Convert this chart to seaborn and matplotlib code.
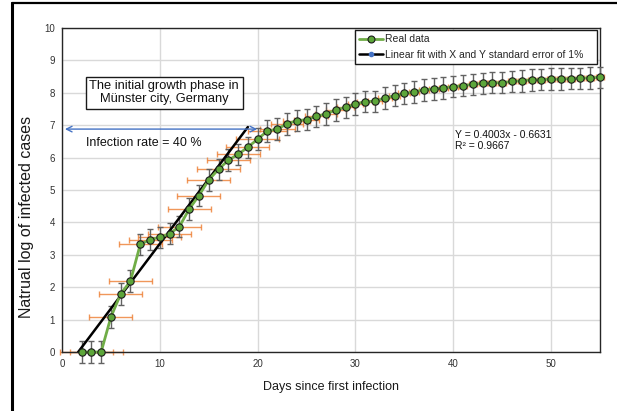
import matplotlib
matplotlib.use("Agg")
import matplotlib.pyplot as plt
from matplotlib.lines import Line2D
import numpy as np
import pandas as pd
import seaborn as sns

# Daily natural log of confirmed cases, Münster
days = list(range(2, 56))
log_cases = [0.00, 0.00, 0.00, 1.08, 1.79, 2.19, 3.32, 3.47, 3.54, 3.65,
             3.87, 4.41, 4.83, 5.31, 5.64, 5.92, 6.10, 6.32, 6.57, 6.82,
             6.88, 7.04, 7.14, 7.17, 7.27, 7.35, 7.47, 7.55, 7.65, 7.73,
             7.74, 7.84, 7.91, 7.98, 8.03, 8.09, 8.12, 8.15, 8.19, 8.22,
             8.26, 8.29, 8.31, 8.31, 8.35, 8.37, 8.40, 8.41, 8.42, 8.42,
             8.44, 8.45, 8.46, 8.48]
# horizontal (day) uncertainty per point
day_err = [2.2, 2.2, 2.2, 2.2, 2.2, 2.2, 2.2, 2.2, 2.2, 2.2,
           2.2, 2.2, 2.2, 2.2, 2.2, 2.2, 2.2, 2.2, 2.2, 2.0,
           1.8, 1.6, 1.4, 1.3, 1.2, 1.1, 1.0, 0.9, 0.8, 0.8,
           0.7, 0.7, 0.6, 0.6, 0.5, 0.5, 0.5, 0.5, 0.5, 0.4,
           0.4, 0.4, 0.4, 0.4, 0.4, 0.4, 0.4, 0.4, 0.4, 0.4,
           0.4, 0.4, 0.4, 0.4]
log_err = 0.33

# linear fit of the initial growth phase
fit_slope = 0.4003
fit_intercept = -0.6631
fit_r2 = 0.9667
fit_end_day = 19.0
rate_level = 6.88
rate_days = [0.3, 19.95]

x_ticks = [0, 10, 20, 30, 40, 50]
y_ticks = list(range(0, 11))

sns.set_style("whitegrid")
plt.rcParams["font.family"] = ["Liberation Sans", "DejaVu Sans"]

fig = plt.figure(figsize=(6.17, 4.11), dpi=100)
ax = fig.add_axes([62 / 617, 1 - 352 / 411, 538 / 617, 324 / 411])

df = pd.DataFrame({"day": days, "log_cases": log_cases})

ax.errorbar(days, log_cases, xerr=day_err, fmt="none", ecolor="#ED7D31",
            elinewidth=1.0, capsize=2.2, capthick=1.0, alpha=0.8,
            zorder=2, clip_on=False)
ax.errorbar(days, log_cases, yerr=log_err, fmt="none", ecolor="#626262",
            elinewidth=1.0, capsize=2.2, capthick=1.0, zorder=3,
            clip_on=False)

fit_x = np.array([-fit_intercept / fit_slope, fit_end_day])
fit_y = fit_slope * fit_x + fit_intercept
sns.lineplot(x=fit_x, y=fit_y, ax=ax, color="black", lw=1.8, zorder=4,
             legend=False)

sns.lineplot(data=df, x="day", y="log_cases", ax=ax, color="#70AD47", lw=2.0,
             marker="o", markersize=5.3, markerfacecolor="#5DA63A",
             markeredgecolor="#1a1a1a", markeredgewidth=0.8, zorder=5,
             legend=False, clip_on=False)

ax.set_xlim(0, 55)
ax.set_ylim(0, 10)
ax.set_xticks(x_ticks)
ax.set_yticks(y_ticks)
ax.grid(True, color="#d9d9d9", lw=1.0)
ax.tick_params(axis="both", length=0, labelsize=7, colors="#333333", pad=5)
for s in ax.spines.values():
    s.set_visible(True)
    s.set_color("#262626")
    s.set_linewidth(1.0)

ax.set_xlabel("Days since first infection", fontsize=9, color="#1a1a1a",
              labelpad=9)
ax.set_ylabel("Natrual log of infected cases", fontsize=11.5,
              color="#1a1a1a")
ax.yaxis.set_label_coords(-0.052, 0.417)

ax.annotate("", xy=(rate_days[0], rate_level), xytext=(rate_days[1], rate_level),
            arrowprops=dict(arrowstyle="<->", color="#4472C4", lw=1.0,
                            shrinkA=0, shrinkB=0), zorder=6)
ax.text(2.5, 6.44, "Infection rate = 40 %", fontsize=9, color="#111111",
        va="center", ha="left", zorder=6)
ax.text(10.45, 8.0, "The initial growth phase in\nMünster city, Germany",
        fontsize=9.3, ha="center", va="center", multialignment="center",
        linespacing=1.1, color="#111111", zorder=6,
        bbox=dict(boxstyle="square,pad=0.28", fc="white", ec="#1a1a1a",
                  lw=1.0))
ax.text(40.2, 6.52,
        f"Y = {fit_slope:.4f}x - {abs(fit_intercept):.4f}\nR² = {fit_r2:.4f}",
        fontsize=7.5, ha="left", va="center", linespacing=1.15,
        color="#111111", zorder=6)

handles = [
    Line2D([], [], color="#70AD47", lw=2.0, marker="o", markersize=5,
           markerfacecolor="#5DA63A", markeredgecolor="#1a1a1a",
           markeredgewidth=0.8),
    Line2D([], [], color="black", lw=1.8, marker="o", markersize=3,
           markerfacecolor="#4472C4", markeredgecolor="#4472C4"),
]
labels = ["Real data", "Linear fit with X and Y standard error of 1%"]
leg_x0 = (355 - 62) / 538
leg_y0 = (352 - 65) / 324
leg = ax.legend(handles, labels, loc="upper left",
                bbox_to_anchor=(leg_x0, leg_y0, 0.9944 - leg_x0,
                                0.9938 - leg_y0),
                mode="expand", borderaxespad=0,
                fontsize=7.5, frameon=True, fancybox=False,
                handlelength=2.3, handletextpad=0.15, labelspacing=0.55,
                borderpad=0.4)
leg.get_frame().set_edgecolor("#1a1a1a")
leg.get_frame().set_linewidth(1.0)
leg.get_frame().set_alpha(1)
leg.set_zorder(7)

# outer frame lines on the figure
fig.add_artist(Line2D([12 / 617, 12 / 617], [0, 1 - 3 / 411],
                      transform=fig.transFigure, color="black", lw=2.2))
fig.add_artist(Line2D([12 / 617, 1], [1 - 3.5 / 411, 1 - 3.5 / 411],
                      transform=fig.transFigure, color="black", lw=1.6))

fig.savefig("out.png", dpi=100)
